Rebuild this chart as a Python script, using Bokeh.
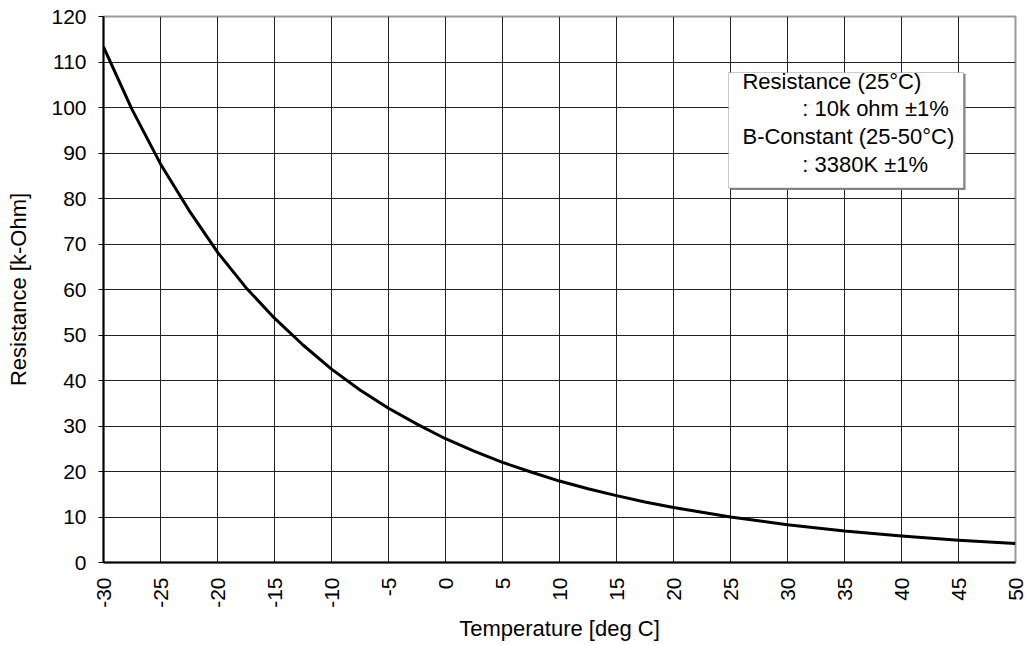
from bokeh.plotting import figure
from bokeh.models import FixedTicker, BoxAnnotation, Label, ColumnDataSource
from bokeh.embed import file_html
from bokeh.resources import INLINE
import math

temperature = [-30, -27.5, -25, -22.5, -20, -17.5, -15, -12.5, -10, -7.5, -5, -2.5, 0,
               2.5, 5, 7.5, 10, 12.5, 15, 17.5, 20, 25, 30, 35, 40, 45, 50]
resistance = [113.3, 99.6, 87.6, 77.4, 68.2, 60.4, 53.7, 47.8, 42.5, 37.9, 33.9, 30.4, 27.2,
              24.5, 22.0, 19.9, 17.9, 16.2, 14.7, 13.3, 12.1, 10.0, 8.3, 6.9, 5.8, 4.9, 4.2]
x_ticks = list(range(-30, 55, 5))
y_ticks = list(range(0, 130, 10))
x_tick_labels = {t: str(t) for t in x_ticks}
note_lines = ["Resistance (25°C)", ": 10k ohm ±1%", "B-Constant (25-50°C)", ": 3380K ±1%"]

FONT = "Liberation Sans"

p = figure(width=1025, height=643, x_range=(-30, 50), y_range=(0, 120),
           output_backend="svg", toolbar_location=None,
           min_border_left=103, min_border_right=10, min_border_top=16, min_border_bottom=79)

src = ColumnDataSource(dict(t=temperature, r=resistance))
p.line("t", "r", source=src, line_color="black", line_width=3, line_join="round")

p.xaxis.ticker = FixedTicker(ticks=x_ticks)
p.yaxis.ticker = FixedTicker(ticks=y_ticks)
p.xaxis.major_label_overrides = x_tick_labels
p.xaxis.minor_tick_line_color = None
p.yaxis.minor_tick_line_color = None
p.xaxis.major_tick_out = 0
p.xaxis.major_tick_in = 0
p.yaxis.major_tick_out = 5
p.yaxis.major_tick_in = 0
p.xaxis.major_label_orientation = math.pi / 2
for ax in (p.xaxis, p.yaxis):
    ax.axis_line_color = "black"
    ax.axis_line_width = 2
    ax.major_tick_line_color = "black"
    ax.major_label_text_font = FONT
    ax.major_label_text_font_size = "21px"
    ax.major_label_text_color = "black"
    ax.axis_label_text_font = FONT
    ax.axis_label_text_font_size = "22px"
    ax.axis_label_text_font_style = "normal"
    ax.axis_label_text_color = "black"
p.xaxis.major_label_standoff = 15
p.yaxis.major_label_standoff = 12
p.xaxis.axis_label = "Temperature [deg C]"
p.yaxis.axis_label = "Resistance [k-Ohm]"
p.xaxis.axis_label_standoff = 5
p.yaxis.axis_label_standoff = 17

p.xgrid.grid_line_color = "#222222"
p.ygrid.grid_line_color = "#222222"
p.xgrid.grid_line_width = 1
p.ygrid.grid_line_width = 1

p.outline_line_color = "#999999"
p.outline_line_width = 2
p.background_fill_color = "white"
p.border_fill_color = "white"

# note box with shadow
p.add_layout(BoxAnnotation(left=25.0, right=45.62, top=107.4, bottom=81.85,
                           fill_color="#888888", fill_alpha=1.0, line_color=None))
p.add_layout(BoxAnnotation(left=24.82, right=45.44, top=107.7, bottom=82.3,
                           fill_color="white", fill_alpha=1.0, line_color="#444444",
                           line_width=1))
xs = [26.05, 31.3, 26.05, 31.3]
ys = [105.8, 99.8, 93.7, 87.4]
for txt, lx, ly in zip(note_lines, xs, ys):
    p.add_layout(Label(x=lx, y=ly, text=txt, text_font=FONT, text_font_size="22px",
                       text_color="black", text_baseline="middle", text_align="left"))

open("out.html", "w").write(file_html(p, INLINE))
